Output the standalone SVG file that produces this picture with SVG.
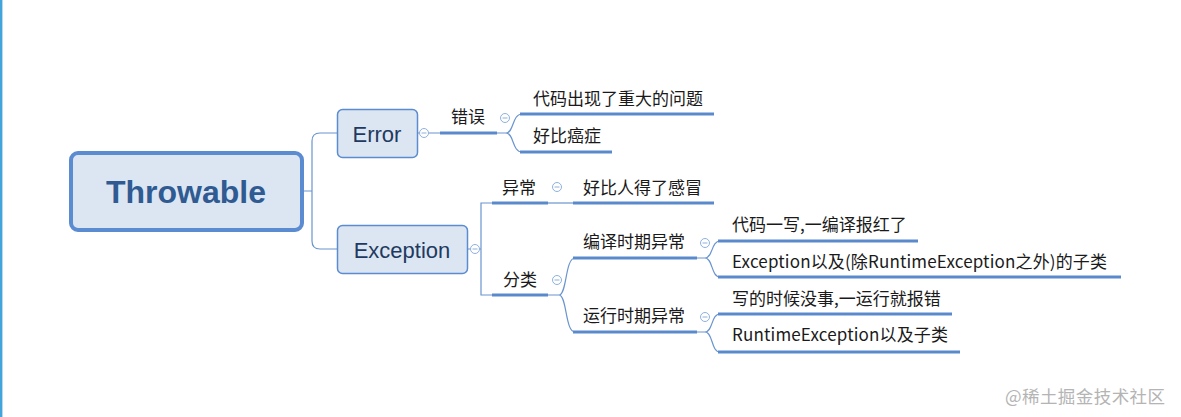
<svg xmlns="http://www.w3.org/2000/svg" width="1181" height="417" viewBox="0 0 1181 417">
<style>
.thin{fill:none;stroke:#6a94cf;stroke-width:1.2}
.thick{fill:none;stroke:#5a89cc;stroke-width:3}
.tog{fill:#ffffff;stroke:#8fb0dc;stroke-width:1}
.togm{stroke:#8fb0dc;stroke-width:1}
.lbl{font-family:"Noto Sans CJK SC","Microsoft YaHei",sans-serif;font-size:17px;fill:#1a1a1a}
.node{fill:#dce6f2;stroke:#5b8bd0}
.ntx{font-family:"Liberation Sans","Noto Sans",sans-serif;font-size:22px;fill:#1f3a60;text-anchor:middle}
</style>
<rect x="0" y="0" width="1181" height="417" fill="#ffffff"/>
<line x1="1.2" y1="0" x2="1.2" y2="417" stroke="#45a3dc" stroke-width="2.4"/>

<g id="connectors">
  <path class="thin" d="M303,191 H312 M312,191 V141 Q312,133 320,133 H337 M312,191 V241 Q312,249 320,249 H337"/>
  <path class="thin" d="M417,133 H420 M428,133 H440"/>
  <path class="thick" d="M440,133 H497"/>
  <path class="thin" d="M497,133 H506 C514,133 512,114 522,114 M506,133 C514,133 512,152 522,152"/>
  <path class="thick" d="M520,114 H714 M520,152 H612"/>
  <path class="thin" d="M468,249 H471 M479,249 H481 M492,203 H481 V295 H492"/>
  <path class="thick" d="M492,203 H548 M573,203 H714"/>
  <path class="thin" d="M548,203 H573"/>
  <path class="thick" d="M492,295 H548"/>
  <path class="thin" d="M548,295 H559 C567,295 565,258 575,258 M559,295 C567,295 565,332 575,332"/>
  <path class="thick" d="M573,258 H697 M573,332 H697"/>
  <path class="thin" d="M697,258 H705 C713,258 711,241 720,241 M705,258 C713,258 711,277 720,277"/>
  <path class="thick" d="M718,241 H918 M718,277 H1121"/>
  <path class="thin" d="M697,332 H705 C713,332 711,314 720,314 M705,332 C713,332 711,352 720,352"/>
  <path class="thick" d="M718,314 H952 M718,352 H960"/>
</g>

<g id="toggles">
  <circle class="tog" cx="424" cy="133" r="4.5"/><line class="togm" x1="421.5" y1="133" x2="426.5" y2="133"/>
  <circle class="tog" cx="505" cy="118" r="4.5"/><line class="togm" x1="502.5" y1="118" x2="507.5" y2="118"/>
  <circle class="tog" cx="475" cy="249" r="4.5"/><line class="togm" x1="472.5" y1="249" x2="477.5" y2="249"/>
  <circle class="tog" cx="557" cy="187" r="4.5"/><line class="togm" x1="554.5" y1="187" x2="559.5" y2="187"/>
  <circle class="tog" cx="557" cy="280" r="4.5"/><line class="togm" x1="554.5" y1="280" x2="559.5" y2="280"/>
  <circle class="tog" cx="705" cy="243" r="4.5"/><line class="togm" x1="702.5" y1="243" x2="707.5" y2="243"/>
  <circle class="tog" cx="705" cy="317" r="4.5"/><line class="togm" x1="702.5" y1="317" x2="707.5" y2="317"/>
</g>

<g id="throwable">
  <rect class="node" x="71" y="153" width="231" height="77" rx="7" stroke-width="4"/>
  <text x="186" y="203" font-family="'Liberation Sans','Noto Sans',sans-serif" font-size="32" font-weight="bold" fill="#2f5b92" text-anchor="middle">Throwable</text>
</g>
<g id="error">
  <rect class="node" x="337.5" y="109.5" width="80" height="48" rx="5" stroke-width="1.5"/>
  <text class="ntx" x="377" y="142">Error</text>
</g>
<g id="exception">
  <rect class="node" x="337.5" y="225.5" width="130" height="48" rx="5" stroke-width="1.5"/>
  <text class="ntx" x="402" y="258">Exception</text>
</g>

<g id="cuowu"><text class="lbl" x="451" y="123">错误</text></g>
<g id="daima"><text class="lbl" x="533" y="105">代码出现了重大的问题</text></g>
<g id="haobi1"><text class="lbl" x="533" y="142">好比癌症</text></g>
<g id="yichang"><text class="lbl" x="502" y="194">异常</text></g>
<g id="haobi2"><text class="lbl" x="583" y="194">好比人得了感冒</text></g>
<g id="fenlei"><text class="lbl" x="503" y="286">分类</text></g>
<g id="bianyi"><text class="lbl" x="583" y="248">编译时期异常</text></g>
<g id="yunxing"><text class="lbl" x="583" y="322">运行时期异常</text></g>
<g id="bianyi1"><text class="lbl" x="732" y="231">代码一写,一编译报红了</text></g>
<g id="bianyi2"><text class="lbl" x="732" y="268" textLength="375" lengthAdjust="spacing">Exception以及(除RuntimeException之外)的子类</text></g>
<g id="yunxing1"><text class="lbl" x="732" y="305">写的时候没事,一运行就报错</text></g>
<g id="yunxing2"><text class="lbl" x="732" y="341" textLength="216" lengthAdjust="spacing">RuntimeException以及子类</text></g>

<text x="1005" y="403" font-family="'Noto Sans CJK SC',sans-serif" font-size="17.5" fill="#b4b4b4" textLength="160" lengthAdjust="spacing">@稀土掘金技术社区</text>
</svg>
